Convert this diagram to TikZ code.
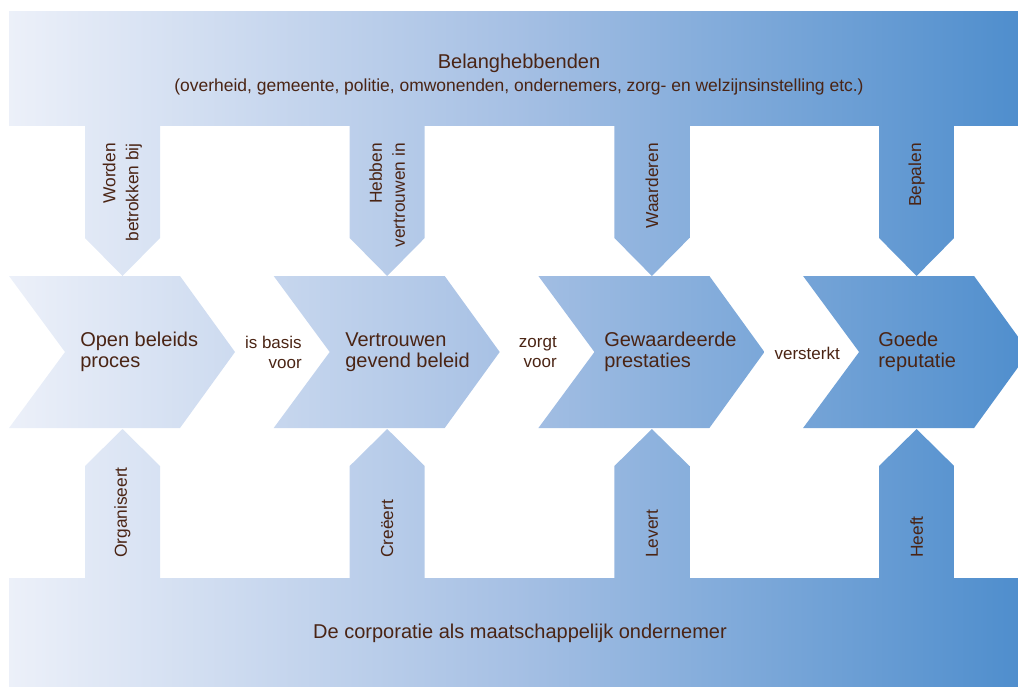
\documentclass[tikz,border=0pt]{standalone}
\usepackage{fontspec}
\setmainfont{Liberation Sans}

\definecolor{bruin}{HTML}{4A2414}
\definecolor{lichtblauw}{HTML}{ECF0F9}
\definecolor{middenblauw}{HTML}{A6C0E4}
\definecolor{donkerblauw}{HTML}{4F8ECD}

\begin{document}
\begin{tikzpicture}[x=0.75pt, y=-0.75pt,
  verloop/.style={path picture={\shade[left color=lichtblauw, right color=donkerblauw,
                                       middle color=middenblauw] (9,11) rectangle (1018,686);}},
  kop/.style={text=bruin, inner sep=0pt, font=\fontsize{15}{15.75}\selectfont},
  klein/.style={text=bruin, inner sep=0pt, font=\fontsize{13.1}{15}\selectfont},
  relatie/.style={text=bruin, inner sep=0pt, align=right, font=\fontsize{12.75}{15}\selectfont},
  pijltekst/.style={text=bruin, inner sep=0pt, rotate=90, align=right, font=\fontsize{13}{17.25}\selectfont}]
\useasboundingbox (0,0) rectangle (1018,686);

%% 上下两条带
\path[verloop] (9,11) rectangle (1018,125);
\path[verloop] (9,578) rectangle (1018,686);

%% 箭头和人字形
\foreach \i in {0,...,3} {
  \pgfmathsetmacro{\cx}{122.5+264.7*\i}
  \pgfmathsetmacro{\ox}{9+264.7*\i}
  \path[verloop] (\cx-37.5,120) -- (\cx+37.5,120) -- (\cx+37.5,238)
                 -- (\cx,276) -- (\cx-37.5,238) -- cycle;
  \path[verloop] (\cx-37.5,583) -- (\cx-37.5,466) -- (\cx,429)
                 -- (\cx+37.5,466) -- (\cx+37.5,583) -- cycle;
  \path[verloop] (\ox,276) -- (\ox+171,276) -- (\ox+226,352)
                 -- (\ox+171,428) -- (\ox,428) -- (\ox+56,352) -- cycle;
}

%% 文字
\node[kop, anchor=base] (belang) at (519,68) {Belanghebbenden};
\node[klein, anchor=base] (partijen) at (519,91.5)
  {(overheid, gemeente, politie, omwonenden, ondernemers, zorg- en welzijnsinstelling etc.)};
\node[kop, anchor=base] (corporatie) at (520,638) {De corporatie als maatschappelijk ondernemer};

\node[kop, align=left, anchor=west] (open) at (80,352) {Open beleids\\proces};
\node[kop, align=left, anchor=west] (vertrouwen) at (345,352) {Vertrouwen\\gevend beleid};
\node[kop, align=left, anchor=west] (prestaties) at (604,352) {Gewaardeerde\\prestaties};
\node[kop, align=left, anchor=west] (reputatie) at (878,352) {Goede\\reputatie};

\node[relatie, anchor=east] (basis) at (302,352) {is basis\\voor};
\node[relatie, anchor=east] (zorgt) at (557,352) {zorgt\\voor};
\node[relatie, anchor=east] (versterkt) at (840,353) {versterkt};

\node[pijltekst, anchor=east] (worden) at (122.5,143) {Worden\\betrokken bij};
\node[pijltekst, anchor=east] (hebben) at (387.2,143) {Hebben\\vertrouwen in};
\node[pijltekst, anchor=east] (waarderen) at (651.9,143) {Waarderen};
\node[pijltekst, anchor=east] (bepalen) at (916.6,143) {Bepalen};

\node[pijltekst, anchor=west] (organiseert) at (122.5,558) {Organiseert};
\node[pijltekst, anchor=west] (creeert) at (387.2,558) {Creëert};
\node[pijltekst, anchor=west] (levert) at (651.9,558) {Levert};
\node[pijltekst, anchor=west] (heeft) at (916.6,558) {Heeft};
\end{tikzpicture}
\end{document}
